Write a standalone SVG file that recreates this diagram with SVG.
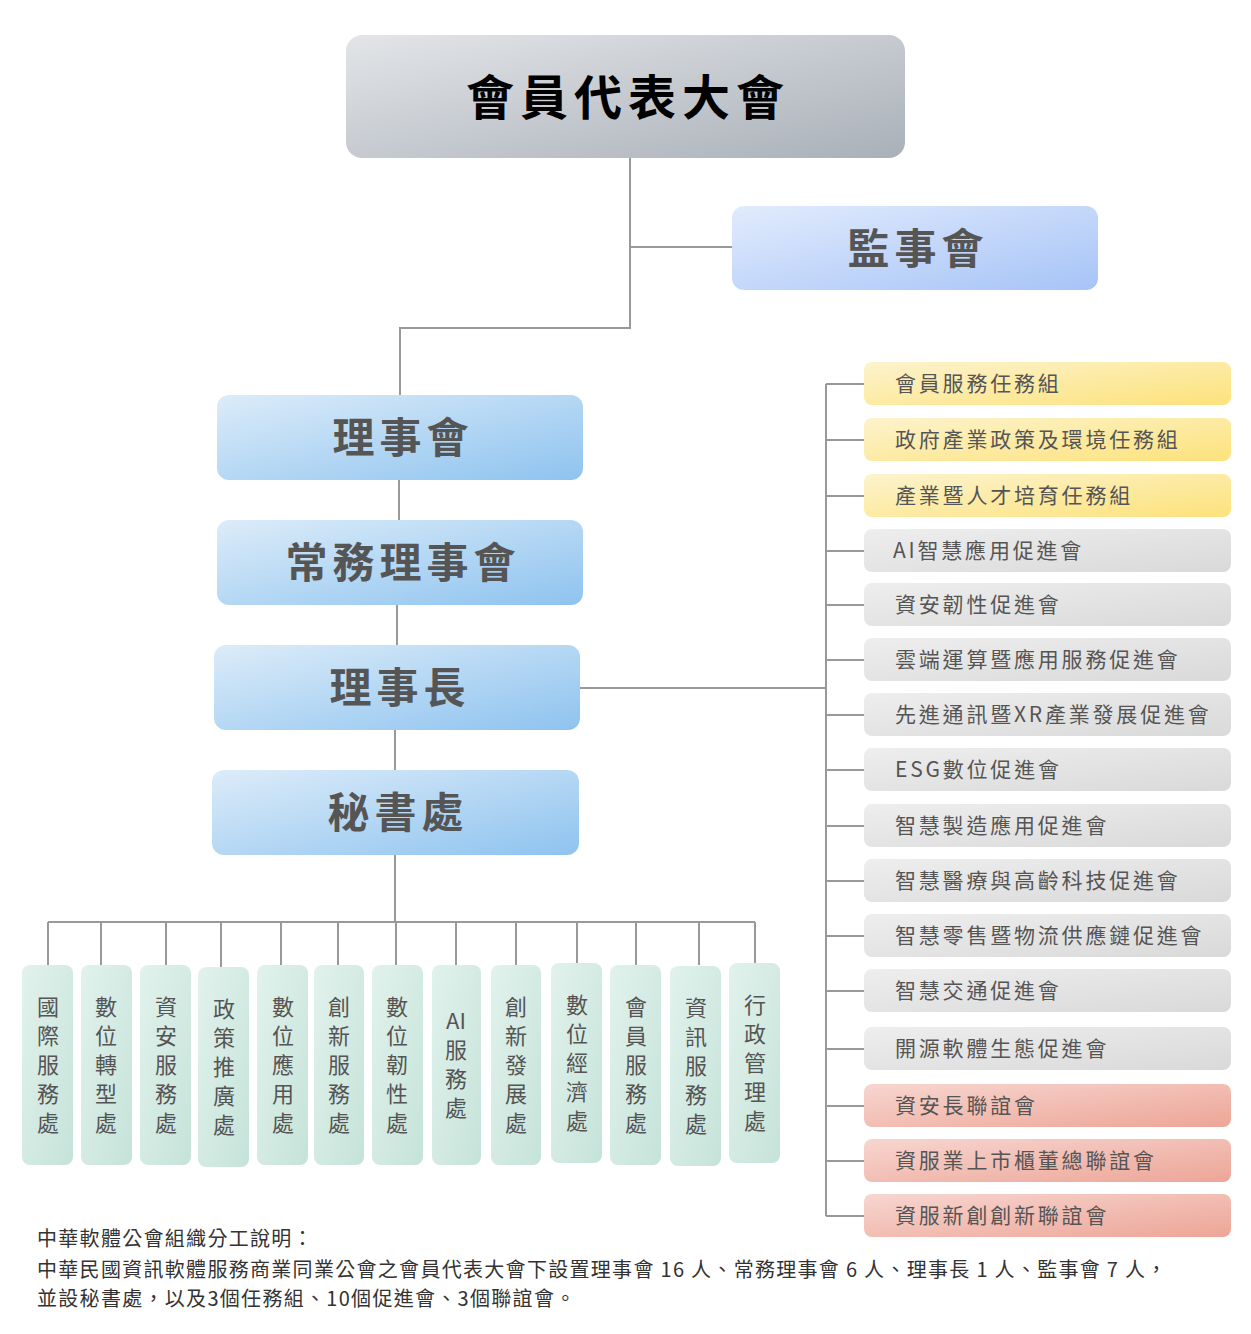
<svg xmlns="http://www.w3.org/2000/svg" width="1251" height="1334" viewBox="0 0 1251 1334">
<defs>
<linearGradient id="gTop" x1="0" y1="0" x2="1" y2="1"><stop offset="0" stop-color="#e3e5e8"/><stop offset="1" stop-color="#a9b0b8"/></linearGradient>
<linearGradient id="gBlue" x1="0" y1="0" x2="1" y2="1"><stop offset="0" stop-color="#e2ebfd"/><stop offset="1" stop-color="#a6c4f7"/></linearGradient>
<linearGradient id="gSky" x1="0" y1="0" x2="1" y2="1"><stop offset="0" stop-color="#dcecf9"/><stop offset="1" stop-color="#8ec3ef"/></linearGradient>
<linearGradient id="gYel" x1="0" y1="0" x2="1" y2="1"><stop offset="0" stop-color="#fdf3cd"/><stop offset="1" stop-color="#fce27b"/></linearGradient>
<linearGradient id="gGray" x1="0" y1="0" x2="1" y2="1"><stop offset="0" stop-color="#eeeeee"/><stop offset="1" stop-color="#d9d9d9"/></linearGradient>
<linearGradient id="gRed" x1="0" y1="0" x2="1" y2="1"><stop offset="0" stop-color="#f7d6d0"/><stop offset="1" stop-color="#eda597"/></linearGradient>
<linearGradient id="gGreen" x1="0" y1="0" x2="1" y2="1"><stop offset="0" stop-color="#e2f2ed"/><stop offset="1" stop-color="#c5e3d9"/></linearGradient>
</defs>
<style>
text{font-family:"Noto Sans CJK TC","Noto Sans CJK SC",sans-serif}
.big{font-size:42px;font-weight:bold;fill:#555;text-anchor:middle;letter-spacing:5px}
.r{font-size:21px;fill:#555;letter-spacing:2.8px}
.v{font-size:22px;fill:#555;text-anchor:middle}
.ln{stroke:#999;stroke-width:2;fill:none}
.ft{font-size:20px;fill:#333;letter-spacing:1.3px}
</style>
<g id="connectors" class="ln">
<path d="M630 158V328H400V395M630 247H732M399 480V520M397 605V645M395 730V770M395 855V922M580 688H826M826 384V1216"/>
<path d="M826 384H864M826 440H864M826 496H864M826 551H864M826 605H864M826 660H864M826 715H864M826 770H864M826 826H864M826 881H864M826 936H864M826 991H864M826 1049H864M826 1106H864M826 1161H864M826 1216H864"/>
<path d="M48 922H755M48 922V965M101 922V965M166 922V965M221 922V967M281 922V965M338 922V965M396 922V965M456 922V965M516 922V965M577 922V963M636 922V965M699 922V965M755 922V963"/>
</g>
<g id="n-top"><rect x="346" y="35" width="559" height="123" rx="16" fill="url(#gTop)"/><text x="628" y="115" font-size="48" font-weight="bold" fill="#000" text-anchor="middle" letter-spacing="6">會員代表大會</text></g>
<g id="n-jian"><rect x="732" y="206" width="366" height="84" rx="12" fill="url(#gBlue)"/><text class="big" x="918" y="264">監事會</text></g>
<g id="n-li"><rect x="217" y="395" width="366" height="85" rx="12" fill="url(#gSky)"/><text class="big" x="403" y="453">理事會</text></g>
<g id="n-chang"><rect x="217" y="520" width="366" height="85" rx="12" fill="url(#gSky)"/><text class="big" x="403" y="578">常務理事會</text></g>
<g id="n-zhang"><rect x="214" y="645" width="366" height="85" rx="12" fill="url(#gSky)"/><text class="big" x="400" y="703">理事長</text></g>
<g id="n-mi"><rect x="212" y="770" width="367" height="85" rx="12" fill="url(#gSky)"/><text class="big" x="398" y="828">秘書處</text></g>
<g id="right">
<g id="r1"><rect x="864" y="362" width="367" height="43" rx="8" fill="url(#gYel)"/><text class="r" x="895" y="391">會員服務任務組</text></g>
<g id="r2"><rect x="864" y="418" width="367" height="43" rx="8" fill="url(#gYel)"/><text class="r" x="895" y="447">政府產業政策及環境任務組</text></g>
<g id="r3"><rect x="864" y="474" width="367" height="43" rx="8" fill="url(#gYel)"/><text class="r" x="895" y="503">產業暨人才培育任務組</text></g>
<g id="r4"><rect x="864" y="529" width="367" height="43" rx="8" fill="url(#gGray)"/><text class="r" x="893" y="558">AI智慧應用促進會</text></g>
<g id="r5"><rect x="864" y="583" width="367" height="43" rx="8" fill="url(#gGray)"/><text class="r" x="895" y="612">資安韌性促進會</text></g>
<g id="r6"><rect x="864" y="638" width="367" height="43" rx="8" fill="url(#gGray)"/><text class="r" x="895" y="667">雲端運算暨應用服務促進會</text></g>
<g id="r7"><rect x="864" y="693" width="367" height="43" rx="8" fill="url(#gGray)"/><text class="r" x="895" y="722">先進通訊暨XR產業發展促進會</text></g>
<g id="r8"><rect x="864" y="748" width="367" height="43" rx="8" fill="url(#gGray)"/><text class="r" x="895" y="777">ESG數位促進會</text></g>
<g id="r9"><rect x="864" y="804" width="367" height="43" rx="8" fill="url(#gGray)"/><text class="r" x="895" y="833">智慧製造應用促進會</text></g>
<g id="r10"><rect x="864" y="859" width="367" height="43" rx="8" fill="url(#gGray)"/><text class="r" x="895" y="888">智慧醫療與高齡科技促進會</text></g>
<g id="r11"><rect x="864" y="914" width="367" height="43" rx="8" fill="url(#gGray)"/><text class="r" x="895" y="943">智慧零售暨物流供應鏈促進會</text></g>
<g id="r12"><rect x="864" y="969" width="367" height="43" rx="8" fill="url(#gGray)"/><text class="r" x="895" y="998">智慧交通促進會</text></g>
<g id="r13"><rect x="864" y="1027" width="367" height="43" rx="8" fill="url(#gGray)"/><text class="r" x="895" y="1056">開源軟體生態促進會</text></g>
<g id="r14"><rect x="864" y="1084" width="367" height="43" rx="8" fill="url(#gRed)"/><text class="r" x="895" y="1113">資安長聯誼會</text></g>
<g id="r15"><rect x="864" y="1139" width="367" height="43" rx="8" fill="url(#gRed)"/><text class="r" x="895" y="1168">資服業上市櫃董總聯誼會</text></g>
<g id="r16"><rect x="864" y="1194" width="367" height="43" rx="8" fill="url(#gRed)"/><text class="r" x="895" y="1223">資服新創創新聯誼會</text></g>
</g>
<g id="bottom">
<g id="b1"><rect x="22" y="965" width="51" height="200" rx="8" fill="url(#gGreen)"/><text class="v" x="48" y="1015">國</text><text class="v" x="48" y="1044">際</text><text class="v" x="48" y="1073">服</text><text class="v" x="48" y="1102">務</text><text class="v" x="48" y="1131">處</text></g>
<g id="b2"><rect x="81" y="965" width="51" height="200" rx="8" fill="url(#gGreen)"/><text class="v" x="106" y="1015">數</text><text class="v" x="106" y="1044">位</text><text class="v" x="106" y="1073">轉</text><text class="v" x="106" y="1102">型</text><text class="v" x="106" y="1131">處</text></g>
<g id="b3"><rect x="140" y="965" width="51" height="200" rx="8" fill="url(#gGreen)"/><text class="v" x="166" y="1015">資</text><text class="v" x="166" y="1044">安</text><text class="v" x="166" y="1073">服</text><text class="v" x="166" y="1102">務</text><text class="v" x="166" y="1131">處</text></g>
<g id="b4"><rect x="198" y="967" width="51" height="200" rx="8" fill="url(#gGreen)"/><text class="v" x="224" y="1017">政</text><text class="v" x="224" y="1046">策</text><text class="v" x="224" y="1075">推</text><text class="v" x="224" y="1104">廣</text><text class="v" x="224" y="1133">處</text></g>
<g id="b5"><rect x="257" y="965" width="51" height="200" rx="8" fill="url(#gGreen)"/><text class="v" x="283" y="1015">數</text><text class="v" x="283" y="1044">位</text><text class="v" x="283" y="1073">應</text><text class="v" x="283" y="1102">用</text><text class="v" x="283" y="1131">處</text></g>
<g id="b6"><rect x="314" y="965" width="50" height="200" rx="8" fill="url(#gGreen)"/><text class="v" x="339" y="1015">創</text><text class="v" x="339" y="1044">新</text><text class="v" x="339" y="1073">服</text><text class="v" x="339" y="1102">務</text><text class="v" x="339" y="1131">處</text></g>
<g id="b7"><rect x="372" y="965" width="51" height="200" rx="8" fill="url(#gGreen)"/><text class="v" x="397" y="1015">數</text><text class="v" x="397" y="1044">位</text><text class="v" x="397" y="1073">韌</text><text class="v" x="397" y="1102">性</text><text class="v" x="397" y="1131">處</text></g>
<g id="b8"><rect x="432" y="965" width="49" height="200" rx="8" fill="url(#gGreen)"/><text class="v" x="456" y="1029">AI</text><text class="v" x="456" y="1058">服</text><text class="v" x="456" y="1087">務</text><text class="v" x="456" y="1116">處</text></g>
<g id="b9"><rect x="491" y="965" width="50" height="200" rx="8" fill="url(#gGreen)"/><text class="v" x="516" y="1015">創</text><text class="v" x="516" y="1044">新</text><text class="v" x="516" y="1073">發</text><text class="v" x="516" y="1102">展</text><text class="v" x="516" y="1131">處</text></g>
<g id="b10"><rect x="551" y="963" width="51" height="200" rx="8" fill="url(#gGreen)"/><text class="v" x="577" y="1013">數</text><text class="v" x="577" y="1042">位</text><text class="v" x="577" y="1071">經</text><text class="v" x="577" y="1100">濟</text><text class="v" x="577" y="1129">處</text></g>
<g id="b11"><rect x="610" y="965" width="51" height="200" rx="8" fill="url(#gGreen)"/><text class="v" x="636" y="1015">會</text><text class="v" x="636" y="1044">員</text><text class="v" x="636" y="1073">服</text><text class="v" x="636" y="1102">務</text><text class="v" x="636" y="1131">處</text></g>
<g id="b12"><rect x="670" y="966" width="51" height="200" rx="8" fill="url(#gGreen)"/><text class="v" x="696" y="1016">資</text><text class="v" x="696" y="1045">訊</text><text class="v" x="696" y="1074">服</text><text class="v" x="696" y="1103">務</text><text class="v" x="696" y="1132">處</text></g>
<g id="b13"><rect x="729" y="963" width="51" height="200" rx="8" fill="url(#gGreen)"/><text class="v" x="755" y="1013">行</text><text class="v" x="755" y="1042">政</text><text class="v" x="755" y="1071">管</text><text class="v" x="755" y="1100">理</text><text class="v" x="755" y="1129">處</text></g>
</g>
<g id="footer">
<text class="ft" x="37" y="1246">中華軟體公會組織分工說明：</text>
<text class="ft" x="37" y="1277">中華民國資訊軟體服務商業同業公會之會員代表大會下設置理事會 16 人、常務理事會 6 人、理事長 1 人、監事會 7 人，</text>
<text class="ft" x="37" y="1306">並設秘書處，以及3個任務組、10個促進會、3個聯誼會。</text>
</g>
</svg>
